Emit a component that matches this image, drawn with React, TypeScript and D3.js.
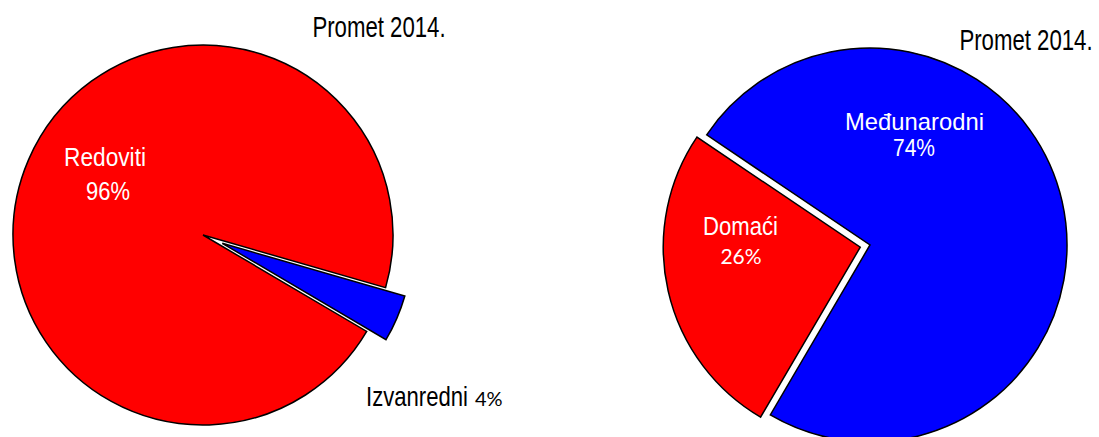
import React from 'react';
import * as d3 from 'd3';

// data
const leftTitle = 'Promet 2014.';
const leftNames = ['Redoviti', 'Izvanredni'];
const leftValues = [96, 4];

const rightTitle = 'Promet 2014.';
const rightNames = ['Međunarodni', 'Domaći'];
const rightValues = [74, 26];

const W = 1099;
const H = 437;
const FONT = '"Liberation Sans", Arial, sans-serif';
const THIN = 'Lato, "Liberation Sans", sans-serif';

const toRad = (deg: number) => (deg * Math.PI) / 180;

interface TextSpec {
  dx: number;
  dy: number;
  size: number;
  sy: number;
  anchor: string;
  thin?: boolean;
}

interface PieSpec {
  title: string;
  names: string[];
  values: number[];
  cx: number;
  cy: number;
  r: number;
  startDeg: number;
  explode: number[];
  colors: string[];
  titlePos: { x: number; y: number };
  labels: { name: TextSpec; pct: TextSpec; inside: boolean }[];
}

const pies: PieSpec[] = [
  {
    title: leftTitle,
    names: leftNames,
    values: leftValues,
    cx: 203,
    cy: 235,
    r: 190,
    startDeg: 120.5,
    explode: [0, 21],
    colors: ['#ff0000', '#0000ff'],
    titlePos: { x: 379, y: 37 },
    labels: [
      {
        name: { dx: -98, dy: -69, size: 22.7, sy: 1.15, anchor: 'middle' },
        pct: { dx: -95, dy: -35, size: 22, sy: 1.18, anchor: 'middle' },
        inside: true,
      },
      {
        name: { dx: 163, dy: 171, size: 22.1, sy: 1.22, anchor: 'start' },
        pct: { dx: 272, dy: 171, size: 20, sy: 1, anchor: 'start', thin: true },
        inside: false,
      },
    ],
  },
  {
    title: rightTitle,
    names: rightNames,
    values: rightValues,
    cx: 870,
    cy: 245,
    r: 197,
    startDeg: 304,
    explode: [0, 10],
    colors: ['#0000ff', '#ff0000'],
    titlePos: { x: 1026, y: 50 },
    labels: [
      {
        name: { dx: 44.5, dy: -115, size: 23.8, sy: 1, anchor: 'middle' },
        pct: { dx: 44, dy: -89, size: 21, sy: 1.14, anchor: 'middle' },
        inside: true,
      },
      {
        name: { dx: -129.5, dy: -10, size: 22.1, sy: 1.13, anchor: 'middle' },
        pct: { dx: -129, dy: 19, size: 21, sy: 1, anchor: 'middle', thin: true },
        inside: true,
      },
    ],
  },
];

const Label: React.FC<{ t: TextSpec; text: string; fill: string }> = ({ t, text, fill }) => (
  <text
    transform={`translate(${t.dx},${t.dy}) scale(1,${t.sy})`}
    fontSize={t.size}
    fontFamily={t.thin ? THIN : FONT}
    textAnchor={t.anchor}
    fill={fill}
  >
    {text}
  </text>
);

const Pie: React.FC<{ spec: PieSpec }> = ({ spec }) => {
  const pie = d3
    .pie<number>()
    .sort(null)
    .value((d) => d)
    .startAngle(toRad(spec.startDeg))
    .endAngle(toRad(spec.startDeg) + Math.PI * 2);
  const arcs = pie(spec.values);
  const arc = d3.arc<d3.PieArcDatum<number>>().innerRadius(0).outerRadius(spec.r);

  return (
    <g>
      <g transform={`translate(${spec.cx},${spec.cy})`}>
        {arcs.map((a, i) => {
          const mid = (a.startAngle + a.endAngle) / 2;
          const off = spec.explode[i];
          const tx = Math.sin(mid) * off;
          const ty = -Math.cos(mid) * off;
          return (
            <path
              key={i}
              d={arc(a) || ''}
              transform={`translate(${tx},${ty})`}
              fill={spec.colors[i]}
              stroke="#000"
              strokeWidth={1.5}
            />
          );
        })}
        {arcs.map((a, i) => {
          const lab = spec.labels[i];
          const fill = lab.inside ? '#fff' : '#000';
          return (
            <g key={'l' + i}>
              <Label t={lab.name} text={spec.names[i]} fill={fill} />
              <Label t={lab.pct} text={`${a.data}%`} fill={fill} />
            </g>
          );
        })}
      </g>
      <Label
        t={{ dx: spec.titlePos.x, dy: spec.titlePos.y, size: 22.2, sy: 1.35, anchor: 'middle' }}
        text={spec.title}
        fill="#000"
      />
    </g>
  );
};

const App: React.FC = () => {
  return (
    <svg
      width={W}
      height={H}
      viewBox={`0 0 ${W} ${H}`}
      style={{ position: 'absolute', left: 0, top: 0, background: '#fff' }}
    >
      <rect width={W} height={H} fill="#fff" />
      {pies.map((p, i) => (
        <Pie key={i} spec={p} />
      ))}
    </svg>
  );
};

export default App;
